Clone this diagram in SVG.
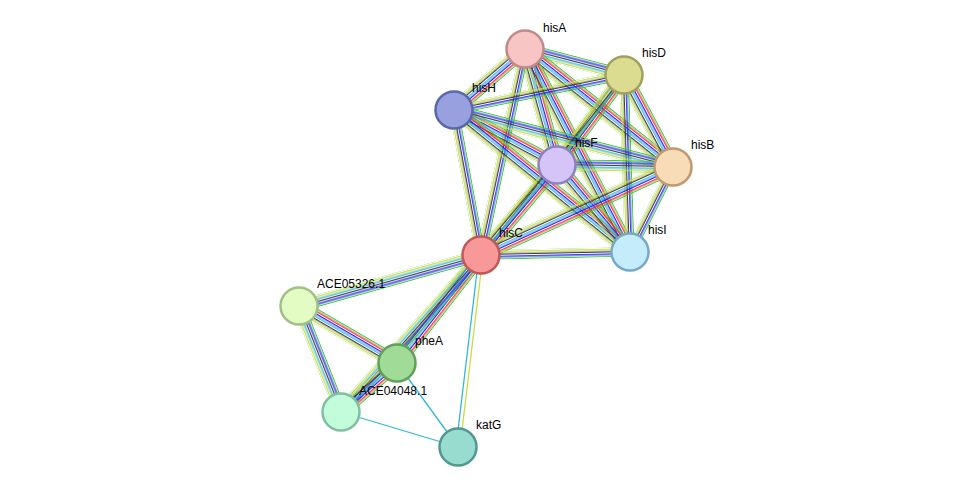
<svg xmlns="http://www.w3.org/2000/svg" width="976" height="492" viewBox="0 0 976 492">
<style>
.n{stroke-width:2.5}
text{font-family:"Liberation Sans",Arial,sans-serif;font-size:12px;fill:#000}
</style>
<defs>
<pattern id="p6" patternUnits="userSpaceOnUse" x="0" y="-7.2" width="10" height="14.4">
<rect y="0" width="10" height="1.3" fill="#3dc43d"/><rect y="2.4" width="10" height="1.3" fill="#ff2020"/><rect y="4.8" width="10" height="1.3" fill="#2020ff"/><rect y="7.2" width="10" height="1.3" fill="#30b8d8"/><rect y="9.6" width="10" height="1.3" fill="#404040"/><rect y="12" width="10" height="1.3" fill="#c8dc40"/>
</pattern>
<pattern id="p5" patternUnits="userSpaceOnUse" x="0" y="-6" width="10" height="12">
<rect y="0" width="10" height="1.3" fill="#3dc43d"/><rect y="2.4" width="10" height="1.3" fill="#2020ff"/><rect y="4.8" width="10" height="1.3" fill="#404040"/><rect y="7.2" width="10" height="1.3" fill="#30b8d8"/><rect y="9.6" width="10" height="1.3" fill="#c8dc40"/>
</pattern>
<pattern id="p4" patternUnits="userSpaceOnUse" x="0" y="-4.8" width="10" height="9.6">
<rect y="0" width="10" height="1.3" fill="#3dc43d"/><rect y="2.4" width="10" height="1.3" fill="#2020ff"/><rect y="4.8" width="10" height="1.3" fill="#404040"/><rect y="7.2" width="10" height="1.3" fill="#c8dc40"/>
</pattern>
<pattern id="p3" patternUnits="userSpaceOnUse" x="0" y="-3.6" width="10" height="7.2">
<rect y="0" width="10" height="1.3" fill="#3dc43d"/><rect y="2.4" width="10" height="1.3" fill="#404040"/><rect y="4.8" width="10" height="1.3" fill="#c8dc40"/>
</pattern>
</defs>
<g id="connectors">
<rect transform="translate(525 49) rotate(14.7)" y="-6" width="102.4" height="12" fill="url(#p5)"/>
<rect transform="translate(525 49) rotate(139.3)" y="-7.2" width="93.6" height="14.4" fill="url(#p6)"/>
<rect transform="translate(525 49) rotate(74.6)" y="-7.2" width="120.3" height="14.4" fill="url(#p6)"/>
<rect transform="translate(525 49) rotate(38.6)" y="-7.2" width="189.3" height="14.4" fill="url(#p6)"/>
<rect transform="translate(525 49) rotate(62.6)" y="-7.2" width="228.5" height="14.4" fill="url(#p6)"/>
<rect transform="translate(525 49) rotate(102.1)" y="-4.8" width="210.6" height="9.6" fill="url(#p4)"/>
<rect transform="translate(624 75) rotate(168.4)" y="-4.8" width="173.6" height="9.6" fill="url(#p4)"/>
<rect transform="translate(624 75) rotate(126.7)" y="-7.2" width="112.2" height="14.4" fill="url(#p6)"/>
<rect transform="translate(624 75) rotate(61.97)" y="-7.2" width="104.2" height="14.4" fill="url(#p6)"/>
<rect transform="translate(624 75) rotate(88.1)" y="-4.8" width="177.1" height="9.6" fill="url(#p4)"/>
<rect transform="translate(624 75) rotate(128.5)" y="-3.6" width="229.9" height="7.2" fill="url(#p3)"/>
<rect transform="translate(454 110) rotate(28.1)" y="-7.2" width="116.8" height="14.4" fill="url(#p6)"/>
<rect transform="translate(454 110) rotate(14.6)" y="-6" width="226.3" height="12" fill="url(#p5)"/>
<rect transform="translate(454 110) rotate(38.9)" y="-7.2" width="226.1" height="14.4" fill="url(#p6)"/>
<rect transform="translate(454 110) rotate(79.5)" y="-4.8" width="147.5" height="9.6" fill="url(#p4)"/>
<rect transform="translate(557 165) rotate(1)" y="-6" width="116" height="12" fill="url(#p5)"/>
<rect transform="translate(557 165) rotate(50)" y="-7.2" width="113.6" height="14.4" fill="url(#p6)"/>
<rect transform="translate(557 165) rotate(130.2)" y="-7.2" width="117.8" height="14.4" fill="url(#p6)"/>
<rect transform="translate(673 167) rotate(116.8)" y="-4.8" width="95.3" height="9.6" fill="url(#p4)"/>
<rect transform="translate(673 167) rotate(155.4)" y="-7.2" width="211.2" height="14.4" fill="url(#p6)"/>
<rect transform="translate(630 252) rotate(178.8)" y="-4.8" width="149" height="9.6" fill="url(#p4)"/>
<rect transform="translate(481 255) rotate(164.3)" y="-6" width="189" height="12" fill="url(#p5)"/>
<rect transform="translate(481 255) rotate(127.9)" y="-7.2" width="136.8" height="14.4" fill="url(#p6)"/>
<rect transform="translate(481 255) rotate(131.7)" y="-6" width="210.4" height="12" fill="url(#p5)"/>
<line x1="479" y1="255" x2="456" y2="447" stroke="#30b8d8" stroke-width="1.3"/>
<line x1="483" y1="255" x2="460" y2="447" stroke="#c8dc40" stroke-width="1.3"/>
<rect transform="translate(299 306) rotate(30.2)" y="-7.2" width="113.4" height="14.4" fill="url(#p6)"/>
<rect transform="translate(299 306) rotate(68.4)" y="-6" width="114" height="12" fill="url(#p5)"/>
<rect transform="translate(397 363) rotate(138.8)" y="-7.2" width="74.4" height="14.4" fill="url(#p6)"/>
<line x1="397" y1="363" x2="458" y2="447" stroke="#30b8d8" stroke-width="1.3"/>
<line x1="341" y1="412" x2="458" y2="447" stroke="#30b8d8" stroke-width="1.3"/>
</g>
<g id="hisA"><circle class="n" cx="525" cy="49" r="18.5" fill="#f8c4c4" stroke="#c08a8a"/><text x="543" y="32">hisA</text></g>
<g id="hisD"><circle class="n" cx="624" cy="75" r="18.5" fill="#dcdc90" stroke="#a0a060"/><text x="642" y="57">hisD</text></g>
<g id="hisH"><circle class="n" cx="454" cy="110" r="18.5" fill="#98a0e0" stroke="#5868a8"/><text x="472" y="92">hisH</text></g>
<g id="hisF"><circle class="n" cx="557" cy="165" r="18.5" fill="#d4c4f8" stroke="#9080c0"/><text x="575" y="147">hisF</text></g>
<g id="hisB"><circle class="n" cx="673" cy="167" r="18.5" fill="#f8dcb8" stroke="#c09870"/><text x="691" y="149">hisB</text></g>
<g id="hisI"><circle class="n" cx="630" cy="252" r="18.5" fill="#c4ecfa" stroke="#78a8c8"/><text x="648" y="234">hisI</text></g>
<g id="hisC"><circle class="n" cx="481" cy="255" r="18.5" fill="#f89898" stroke="#c05858"/><text x="499" y="237">hisC</text></g>
<g id="ACE05326.1"><circle class="n" cx="299" cy="306" r="18.5" fill="#e2fcc4" stroke="#a0c088"/><text x="317" y="288">ACE05326.1</text></g>
<g id="pheA"><circle class="n" cx="397" cy="363" r="18.5" fill="#a0dc98" stroke="#60a058"/><text x="415" y="345">pheA</text></g>
<g id="ACE04048.1"><circle class="n" cx="341" cy="412" r="18.5" fill="#c2fcda" stroke="#80c0a0"/><text x="359" y="395">ACE04048.1</text></g>
<g id="katG"><circle class="n" cx="458" cy="447" r="18.5" fill="#98dcd0" stroke="#509890"/><text x="476" y="429">katG</text></g>
</svg>
